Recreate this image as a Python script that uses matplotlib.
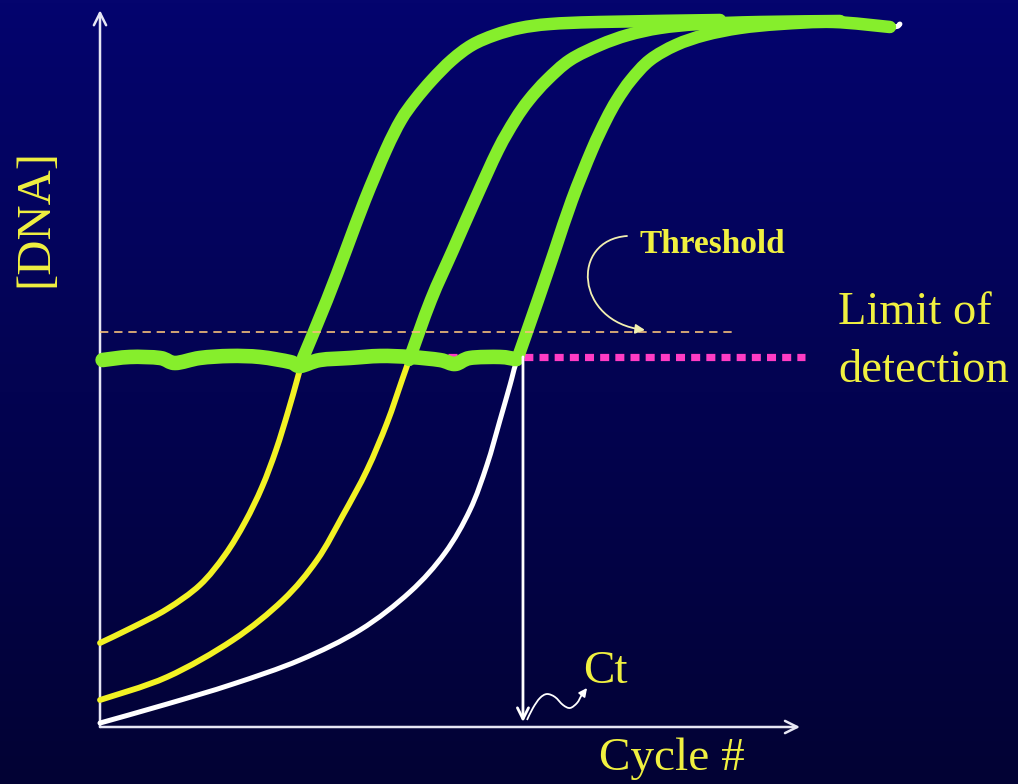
import numpy as np
import matplotlib
matplotlib.use("Agg")
import matplotlib.pyplot as plt
from matplotlib.path import Path
from matplotlib.patches import FancyArrowPatch, PathPatch

# ---------------- data (cycle number, relative [DNA]) ----------------
curve1_cycle = [0.0, 1.89, 3.83, 5.71, 7.14, 8.29, 9.26, 10.06, 10.74, 11.26, 11.60,
                12.97, 14.06, 15.14, 16.34, 17.20, 18.00, 18.97, 20.11, 21.26, 22.57,
                24.00, 25.71, 28.57, 35.43]
curve1_dna = [0.1185, 0.1410, 0.1664, 0.2003, 0.2426, 0.2891, 0.3385, 0.3907, 0.4443,
              0.4894, 0.5205, 0.6023, 0.6728, 0.7433, 0.8138, 0.8561, 0.8843, 0.9126,
              0.9408, 0.9619, 0.9760, 0.9859, 0.9915, 0.9944, 0.9972]
curve1_split = 10

curve2_cycle = [0.0, 3.83, 7.60, 10.46, 12.40, 13.89, 15.26, 16.40, 17.26, 17.66,
                18.91, 20.17, 21.43, 22.74, 23.71, 24.51, 25.54, 26.86, 28.57, 30.17,
                32.00, 34.29, 37.71, 42.29]
curve2_dna = [0.0381, 0.0705, 0.1227, 0.1791, 0.2355, 0.2990, 0.3625, 0.4288, 0.4894,
              0.5176, 0.6023, 0.6728, 0.7433, 0.8138, 0.8561, 0.8843, 0.9126, 0.9408,
              0.9619, 0.9760, 0.9859, 0.9915, 0.9944, 0.9958]
curve2_split = 9

curve3_cycle = [0.0, 3.83, 7.60, 11.43, 14.86, 17.71, 19.71, 21.14, 22.11, 22.86, 23.43,
                23.83, 25.03, 26.00, 26.97, 28.11, 28.91, 29.54, 30.34, 31.43, 32.91,
                34.57, 36.57, 38.86, 41.89, 45.14, 45.71]
curve3_dna = [0.0056, 0.0324, 0.0606, 0.0945, 0.1368, 0.1904, 0.2454, 0.3061, 0.3695,
              0.4330, 0.4824, 0.5176, 0.6023, 0.6728, 0.7433, 0.8138, 0.8561, 0.8843,
              0.9126, 0.9408, 0.9619, 0.9760, 0.9859, 0.9915, 0.9944, 0.9873, 0.9915]
curve3_split = 11

baseline_cycle = [0.15, 1.71, 3.43, 4.29, 5.71, 7.43, 9.14, 10.86, 11.43, 12.57, 14.29,
                  16.00, 17.71, 19.43, 20.29, 21.14, 22.86, 23.71]
baseline_dna = [0.5176, 0.5219, 0.5205, 0.5134, 0.5205, 0.5233, 0.5219, 0.5148, 0.5092,
                0.5176, 0.5205, 0.5233, 0.5219, 0.5176, 0.5120, 0.5205, 0.5219, 0.5190]

threshold_dna = 0.557
threshold_range = [0.0, 36.3]
detection_dna = 0.522
detection_range = [19.9, 40.3]
ct_cycle = 24.17

x_axis_end = 40.0
y_axis_end = 1.011

squiggle_cycle = [24.40, 24.74, 25.14, 25.54, 26.00, 26.46, 26.86, 27.26, 27.49, 27.83]
squiggle_dna = [0.0099, 0.0268, 0.0409, 0.0465, 0.0423, 0.0310, 0.0268, 0.0339, 0.0437, 0.0550]

# ---------------- styling ----------------
GREEN = "#86ee2c"
YELLOW = "#f2f224"
WHITE = "#ffffff"
PINK = "#ff3cc4"
TEXT_Y = "#f0f040"
AXIS_C = "#e6e6f4"
SERIF = ["Liberation Serif", "DejaVu Serif"]


def smooth_path(xs, ys):
    """Catmull-Rom spline through the given points, as a Bezier path."""
    P = np.column_stack([xs, ys]).astype(float)
    n = len(P)
    verts = [P[0]]
    codes = [Path.MOVETO]
    for i in range(n - 1):
        p0 = P[i - 1] if i > 0 else P[i]
        p1, p2 = P[i], P[i + 1]
        p3 = P[i + 2] if i + 2 < n else P[i + 1]
        verts += [p1 + (p2 - p0) / 6, p2 - (p3 - p1) / 6, p2]
        codes += [Path.CURVE4] * 3
    return Path(verts, codes)


def draw_curve(ax, xs, ys, color, lw, z):
    ax.add_patch(PathPatch(smooth_path(xs, ys), fill=False, edgecolor=color, lw=lw,
                           capstyle="round", joinstyle="round", zorder=z))


fig = plt.figure(figsize=(10.18, 7.84), dpi=100)
ax = fig.add_axes([0, 0, 1, 1])
x0, x1 = -100 / 17.5, 918 / 17.5
y0, y1 = (727 - 784) / 709, 727 / 709
ax.set_xlim(x0, x1)
ax.set_ylim(y0, y1)
ax.axis("off")

# background gradient
top = np.array([4, 4, 110]) / 255
bot = np.array([2, 2, 52]) / 255
t = np.linspace(0, 1, 256)[:, None, None]
grad = top * (1 - t) + bot * t
ax.imshow(grad, extent=(x0, x1, y0, y1), aspect="auto", origin="upper", zorder=0)

# axes with arrows
for xy in [(0, y_axis_end), (x_axis_end, 0)]:
    ax.annotate("", xy=xy, xytext=(0, 0),
                arrowprops=dict(arrowstyle="->", color=AXIS_C, lw=1.8, mutation_scale=22,
                                shrinkA=0, shrinkB=0), zorder=3)

# lower parts (pre-detection)
draw_curve(ax, curve3_cycle, curve3_dna, WHITE, 3.6, 4)
draw_curve(ax, curve1_cycle[:curve1_split + 1], curve1_dna[:curve1_split + 1], YELLOW, 4.2, 4)
draw_curve(ax, curve2_cycle[:curve2_split + 1], curve2_dna[:curve2_split + 1], YELLOW, 4.2, 4)

# limit of detection (pink squares)
ax.plot(detection_range, [detection_dna] * 2, color=PINK, lw=5.2,
        linestyle=(0, (1.25, 0.85)), dash_capstyle="butt", zorder=4)

# detected (green) parts
draw_curve(ax, curve1_cycle[curve1_split:], curve1_dna[curve1_split:], GREEN, 9.0, 5)
draw_curve(ax, curve2_cycle[curve2_split:], curve2_dna[curve2_split:], GREEN, 9.0, 5)
draw_curve(ax, curve3_cycle[curve3_split:-1], curve3_dna[curve3_split:-1], GREEN, 9.0, 5)
draw_curve(ax, baseline_cycle, baseline_dna, GREEN, 10.5, 5)

# threshold dashed line
ax.plot(threshold_range, [threshold_dna] * 2, color="#f6c07a", lw=1.2,
        linestyle=(0, (5, 3.5)), zorder=6)

# Ct vertical line with arrow
ax.annotate("", xy=(ct_cycle, 0.007), xytext=(ct_cycle, detection_dna),
            arrowprops=dict(arrowstyle="->", color=WHITE, lw=2.0, mutation_scale=20,
                            shrinkA=0, shrinkB=0), zorder=6)

# squiggle arrow to "Ct"
ax.add_patch(PathPatch(smooth_path(squiggle_cycle[:-1], squiggle_dna[:-1]), fill=False,
                       edgecolor=WHITE, lw=1.3, zorder=6))
ax.annotate("", xy=(squiggle_cycle[-1], squiggle_dna[-1]),
            xytext=(squiggle_cycle[-2], squiggle_dna[-2]),
            arrowprops=dict(arrowstyle="-|>", color=WHITE, lw=1.3, mutation_scale=12,
                            shrinkA=0, shrinkB=0), zorder=6)


# curved arrow from "Threshold" label
def px(x, y):
    return ((x - 100) / 17.5, (727 - y) / 709)


verts = [px(627, 236), px(570, 240), px(575, 322), px(645, 330)]
path = Path(verts, [Path.MOVETO, Path.CURVE4, Path.CURVE4, Path.CURVE4])
ax.add_patch(FancyArrowPatch(path=path, arrowstyle="-|>", color="#f2f0b0", lw=1.3,
                             mutation_scale=14, zorder=6))

# texts
ax.text(-3.71, 0.718, "[DNA]", rotation=90, color=TEXT_Y, fontsize=35,
        family=SERIF, ha="center", va="center", zorder=7)
ax.text(32.69, -0.045, "Cycle #", color=TEXT_Y, fontsize=34, family=SERIF,
        ha="center", va="center", zorder=7)
ax.text(28.86, 0.078, "Ct", color=TEXT_Y, fontsize=34, family=SERIF,
        ha="center", va="center", zorder=7)
ax.text(42.17, 0.584, "Limit of", color=TEXT_Y, fontsize=33.5, family=SERIF,
        ha="left", va="center", zorder=7)
ax.text(42.17, 0.503, "detection", color=TEXT_Y, fontsize=33.5, family=SERIF,
        ha="left", va="center", zorder=7)
ax.text(34.97, 0.681, "Threshold", color=TEXT_Y, fontsize=24, family=SERIF,
        fontweight="bold", ha="center", va="center", zorder=7)

fig.savefig("out.png", dpi=100)
